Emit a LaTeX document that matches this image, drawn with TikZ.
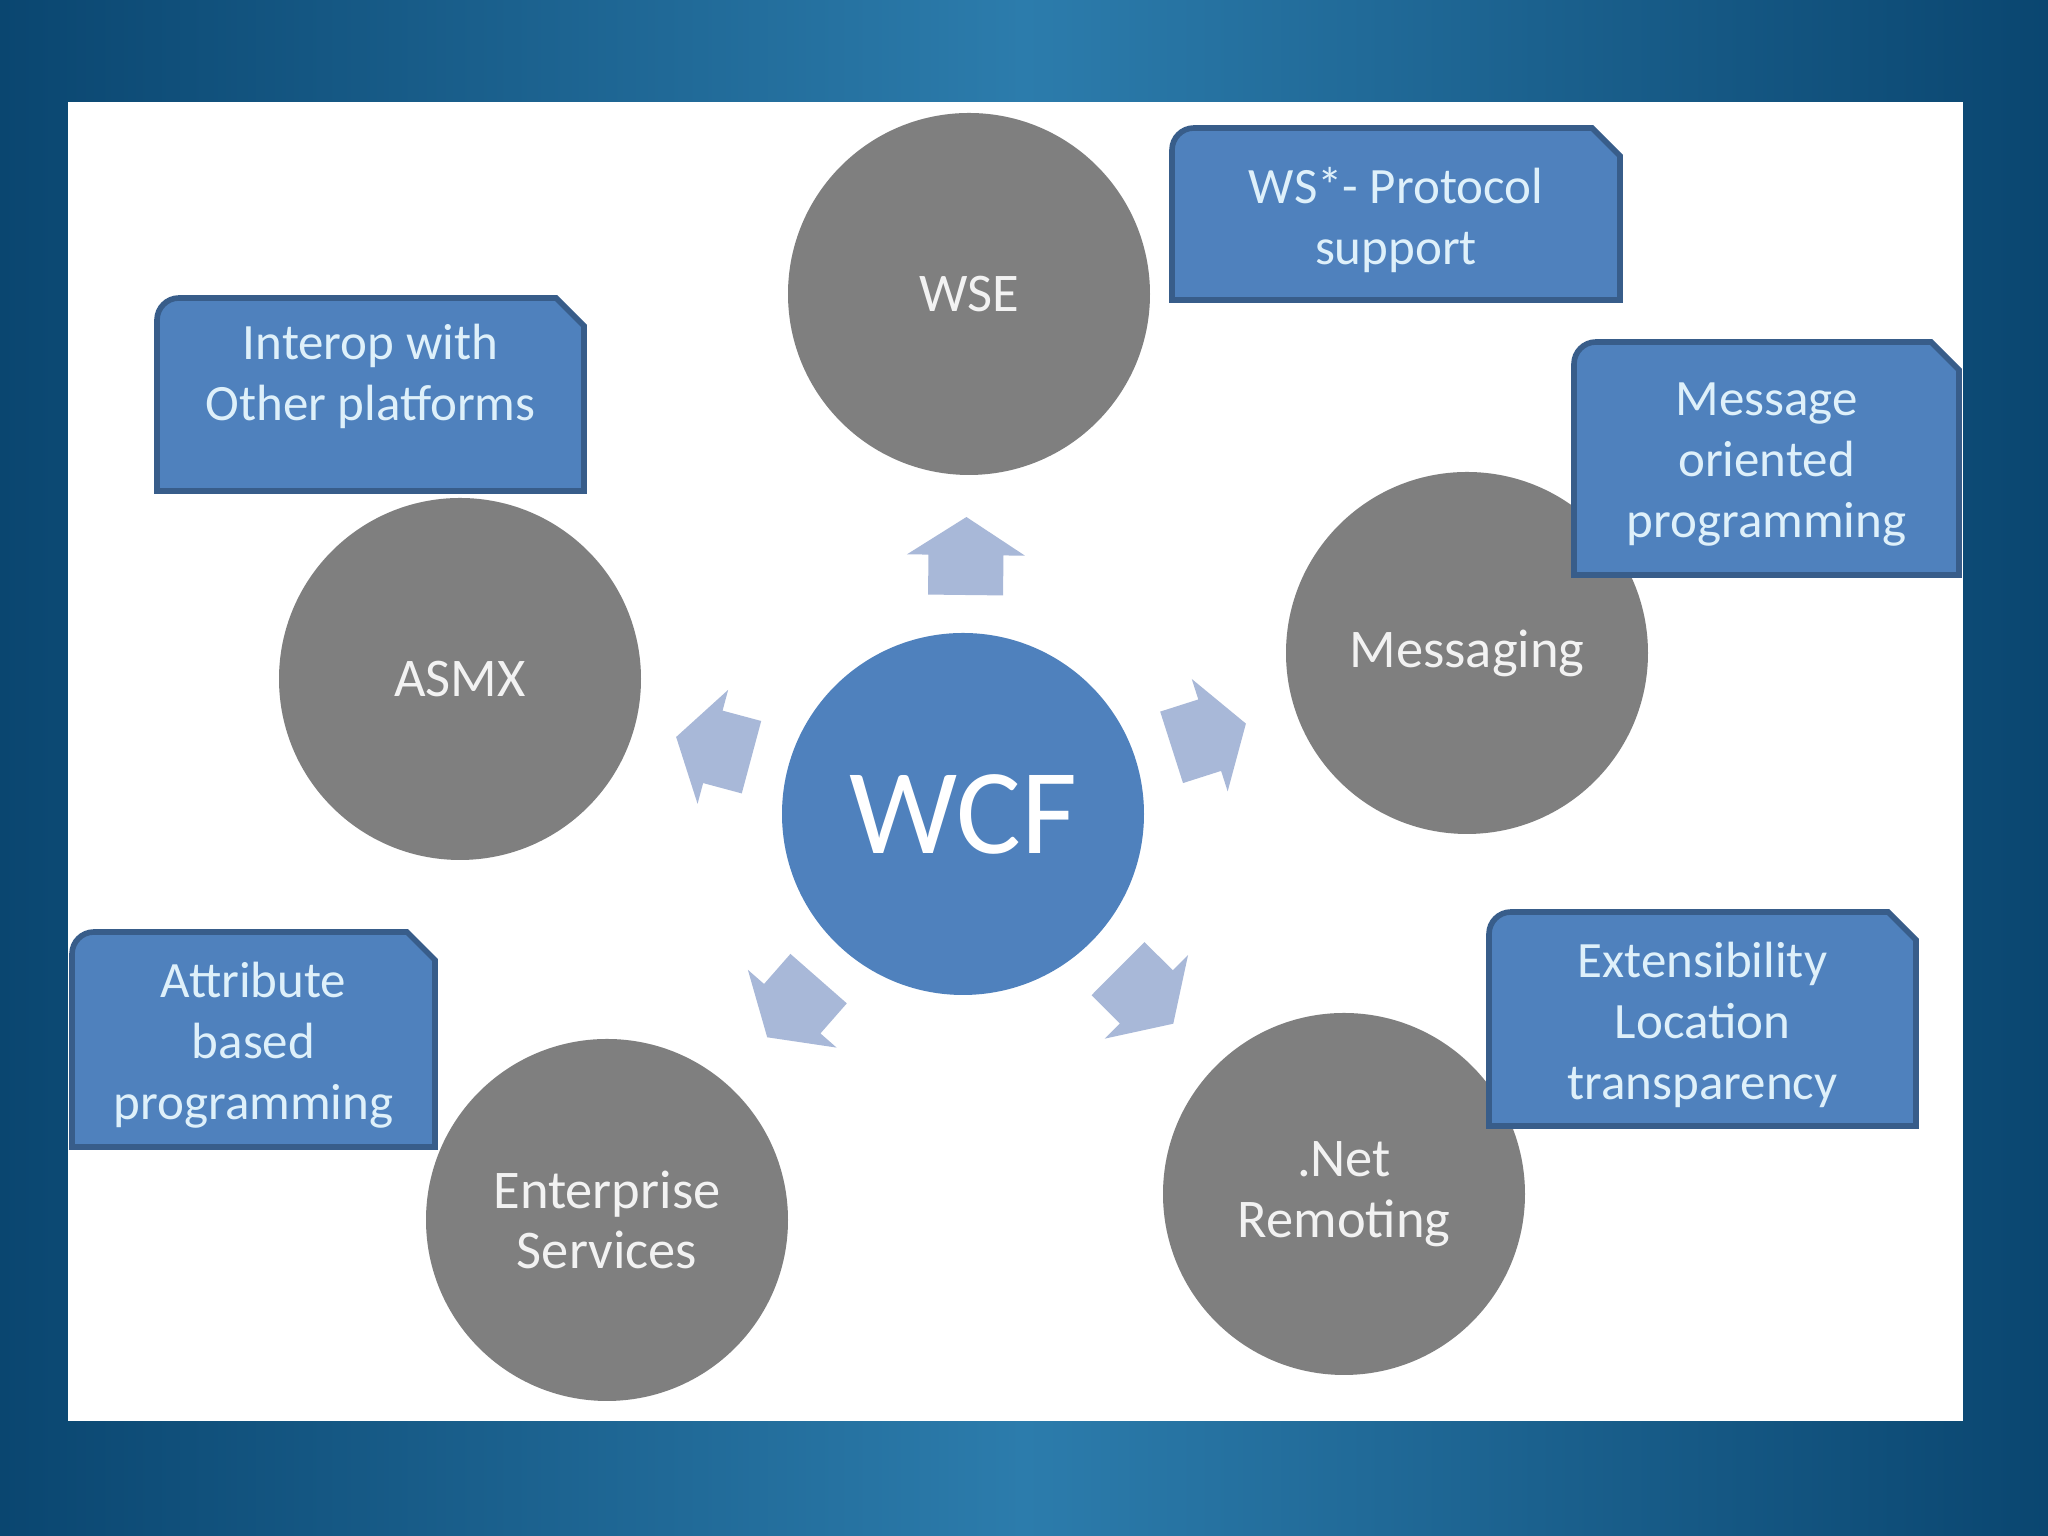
\documentclass[tikz,border=0pt]{standalone}
\usepackage{fontspec}
\setmainfont{Carlito}
\usetikzlibrary{calc}

\definecolor{bgdark}{RGB}{10,70,112}
\definecolor{bglight}{RGB}{44,124,172}
\definecolor{circgray}{RGB}{127,127,127}
\definecolor{hubblue}{RGB}{79,129,189}
\definecolor{noteblue}{RGB}{79,129,189}
\definecolor{noteedge}{RGB}{56,93,138}
\definecolor{notetxt}{RGB}{222,240,250}
\definecolor{circtxt}{RGB}{242,242,242}
\definecolor{arrowblue}{RGB}{168,184,216}

% callout with a rounded top-left and a snipped top-right corner
\newcommand{\snipbox}[6][]{% #1 text options, #2 name, #3 centre, #4 half width, #5 half height, #6 text
    \begin{scope}[shift={(#3)}]
        \draw[snipline] (-#4,-#5) -- (-#4,#5-0.22)
            arc[start angle=180, end angle=90, radius=0.22]
            -- (#4-0.28,#5) -- (#4,#5-0.28) -- (#4,-#5) -- cycle;
    \end{scope}
    \node[notetext,#1] (#2) at (#3) {#6};
}

\begin{document}
\begin{tikzpicture}[
                circ/.style={
                    circle,
                    fill=circgray,
                    minimum size=3.62cm,
                    inner sep=0pt,
                    align=center,
                    text=circtxt,
                    font=\fontsize{15.5}{17.3}\selectfont
                },
                hub/.style={
                    circ,
                    fill=hubblue,
                    text=white,
                    font=\fontsize{34.6}{40}\selectfont
                },
                notetext/.style={
                    align=center,
                    text=notetxt,
                    inner sep=0pt,
                    yshift=-0.06cm,
                    font=\fontsize{14.5}{17.4}\selectfont
                },
                snipline/.style={
                    fill=noteblue,
                    draw=noteedge,
                    line width=1.6pt
                },
                blockarrow/.style={
                    fill=arrowblue,
                    draw=none
                }
            ]

                % slide background and white panel
                \shade[left color=bgdark, right color=bgdark, middle color=bglight] (0,0) rectangle (20.48,15.36);
                \fill[white] (0.68,1.15) rectangle (19.63,14.34);

                \node[hub] (wcf) at (9.63,7.22) {WCF};
                \node[circ] (wse) at (9.69,12.42) {WSE};
                \node[circ] (asmx) at (4.60,8.57) {ASMX};
                \node[circ] (msg) at (14.67,8.83) {Messaging};
                \node[circ] (enterprise) at (6.07,3.16) {Enterprise\\Services};
                \node[circ] (remoting) at (13.44,3.42) {.Net\\Remoting};

                % block arrows pointing out of WCF
                \foreach \target in {wse,msg,remoting,enterprise,asmx}
                    \fill[blockarrow] let \p1=($(\target)-(wcf)$), \n1={atan2(\y1,\x1)} in
                        [shift={($(wcf)!2.58cm!(\target)$)}, rotate=\n1]
                        (-0.39,-0.375) -- (0.01,-0.375) -- (0.01,-0.59) -- (0.39,0)
                        -- (0.01,0.59) -- (0.01,0.375) -- (-0.39,0.375) -- cycle;

                \snipbox{wsnote}{13.96,13.22}{2.24}{0.86}{WS*- Protocol\\support}
                \snipbox[yshift=0.24cm]{interop}{3.705,11.415}{2.135}{0.965}{Interop with\\Other platforms}
                \snipbox{msgnote}{17.665,10.775}{1.925}{1.165}{Message\\oriented\\programming}
                \snipbox{attrnote}{2.535,4.965}{1.815}{1.075}{Attribute\\based\\programming}
                \snipbox{extnote}{17.025,5.17}{2.135}{1.07}{Extensibility\\Location\\transparency}
        \end{tikzpicture}
\end{document}
